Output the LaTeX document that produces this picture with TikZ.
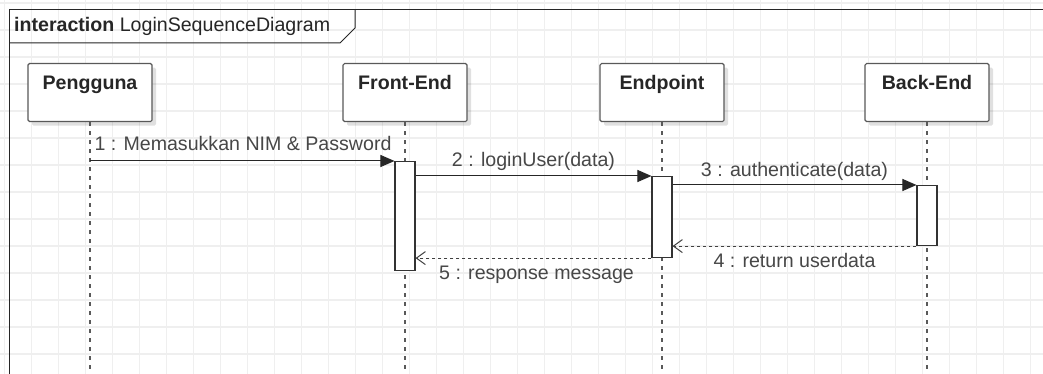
\documentclass[tikz,border=0pt]{standalone}
\usepackage{fontspec}
\setmainfont{Liberation Sans}
\usepackage{xcolor}
\usepackage{tikz}
\usetikzlibrary{arrows.meta,positioning,calc,shadows}
\definecolor{gridgray}{HTML}{EFEFEF}
\definecolor{linegray}{HTML}{595959}
\definecolor{textgray}{HTML}{474747}
\newcommand\seqfont{\fontsize{19.6}{22}\selectfont}
\tikzset{
  gridline/.style={draw=gridgray, line width=1.2pt},
  frame/.style={draw=black!85, line width=1pt},
  lifebox/.style={draw=linegray, line width=1.2pt, fill=white, rounded corners=1.5pt, anchor=north,
    minimum width=124pt, inner ysep=0pt, text height=26pt, text depth=32pt,
    font=\seqfont\bfseries, text=black!85,
    drop shadow={shadow xshift=4pt, shadow yshift=-4pt, opacity=.12, fill=black}},
  act/.style={draw=black!80, line width=1.1pt, fill=white, minimum width=20pt, inner sep=0pt, anchor=north},
  lifeline/.style={draw=linegray, line width=1.3pt, dash pattern=on 4pt off 5pt},
  msg/.style={draw=black!85, line width=1pt, -{Triangle[length=14pt, width=12pt]}},
  reply/.style={draw=black!75, line width=1pt, dash pattern=on 3pt off 3pt, -{Straight Barb[length=9pt, width=13pt, line width=1pt]}},
  msglabel/.style={font=\seqfont, text=textgray, inner sep=0pt}
}

\begin{document}
\begin{tikzpicture}[x=1pt, y=-1pt]
  \useasboundingbox[fill=white] (0,0) rectangle (1043,374);
  \coordinate (bottom) at (0,380);

  % background grid
  \foreach \gx in {0,...,38}
    \draw[gridline] (4.3+27*\gx,0) -- (4.3+27*\gx,374);
  \foreach \gy in {0,...,13}
    \draw[gridline] (0,3+27*\gy) -- (1043,3+27*\gy);

  % interaction frame with its name tab
  \draw[frame] (9,380) -- (9,10) -- (1050,10);
  \draw[frame] (9,43) -- (340,43) -- (355,28) -- (355,10);
  \node[anchor=base west, inner sep=0pt, font=\seqfont, text=black!85] (title) at (14,32)
    {\textbf{interaction} LoginSequenceDiagram};

  % participants
  \node[lifebox] (pengguna) at (90,63) {Pengguna};
  \node[lifebox] (frontend) at (405,63) {Front-End};
  \node[lifebox] (endpoint) at (662,63) {Endpoint};
  \node[lifebox] (backend) at (927,63) {Back-End};

  \draw[lifeline] (pengguna.south) -- (pengguna.south |- bottom);
  \draw[lifeline] (frontend.south) -- (frontend.south |- bottom);
  \draw[lifeline] (endpoint.south) -- (endpoint.south |- bottom);
  \draw[lifeline] (backend.south) -- (backend.south |- bottom);

  % activations
  \node[act, minimum height=109pt] (act1) at (405,161) {};
  \node[act, minimum height=81pt] (act2) at (662,176) {};
  \node[act, minimum height=60pt] (act3) at (927,185) {};

  % messages
  \draw[msg] (pengguna.south |- act1.north) -- (act1.north west)
    node[msglabel, pos=0, anchor=base west, xshift=4pt, yshift=10pt] {1 : Memasukkan NIM \& Password};
  \draw[msg] (act2.north west -| act1.east) -- (act2.north west)
    node[msglabel, midway, anchor=base, yshift=9pt] {2 : loginUser(data)};
  \draw[msg] (act3.north west -| act2.east) -- (act3.north west)
    node[msglabel, midway, anchor=base, yshift=8.5pt] {3 : authenticate(data)};
  \draw[reply] (act3.south west) -- (act3.south west -| act2.east)
    node[msglabel, midway, anchor=base, yshift=-21.5pt] {4 : return userdata};
  \draw[reply] (act2.south west) -- (act2.south west -| act1.east)
    node[msglabel, midway, anchor=base, xshift=3pt, yshift=-21pt] {5 : response message};
\end{tikzpicture}
\end{document}
